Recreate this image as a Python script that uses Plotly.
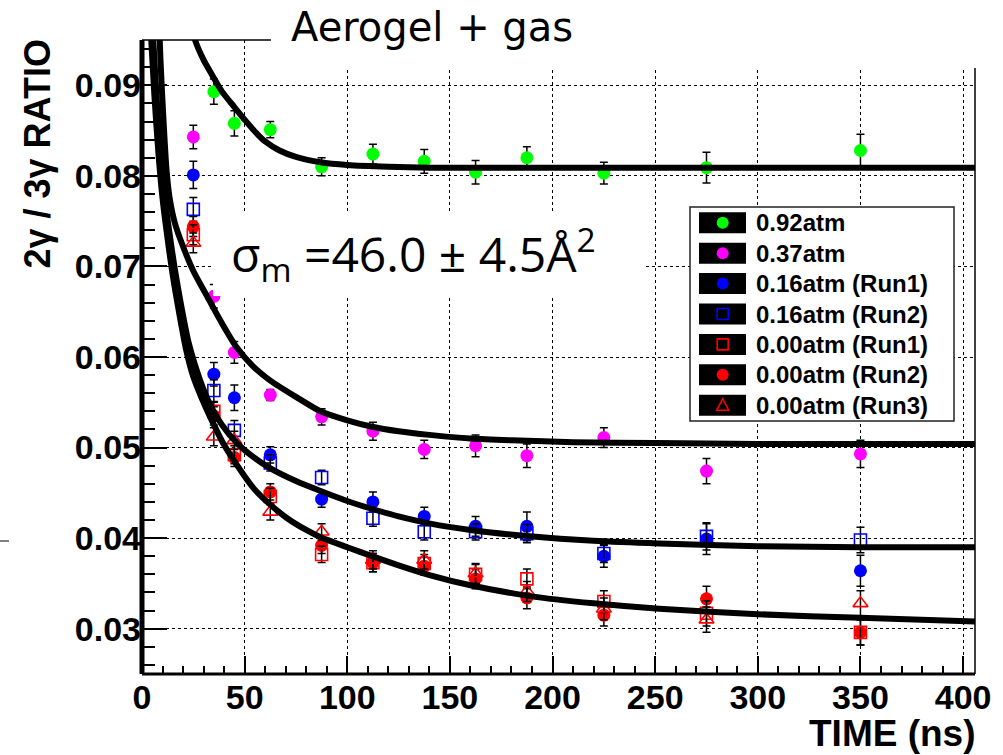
import plotly.graph_objects as go

# ---------------- data ----------------
time_ns = [25, 35, 45, 62.5, 87.5, 112.5, 137.5, 162.5, 187.5, 225, 275, 350]
time_092 = [35, 45, 62.5, 87.5, 112.5, 137.5, 162.5, 187.5, 225, 275, 350]

ratio_092 = [0.0893, 0.0858, 0.0851, 0.0810, 0.0824, 0.0816, 0.0804, 0.0820, 0.0803, 0.0809, 0.0828]
err_092 = [0.0014, 0.0014, 0.0009, 0.0010, 0.0011, 0.0013, 0.0013, 0.0012, 0.0012, 0.0017, 0.0018]

ratio_037 = [0.0843, 0.0667, 0.0605, 0.0558, 0.0534, 0.0518, 0.0498, 0.0502, 0.0491, 0.0511, 0.0474, 0.0493]
err_037 = [0.0013, 0.0013, 0.0012, 0.0006, 0.0009, 0.0010, 0.0010, 0.0012, 0.0013, 0.0011, 0.0014, 0.0015]

ratio_016_r1 = [0.0801, 0.0581, 0.0555, 0.0492, 0.0443, 0.0440, 0.0424, 0.0413, 0.0413, 0.0380, 0.0399, 0.0364]
err_016_r1 = [0.0015, 0.0013, 0.0014, 0.0009, 0.0009, 0.0011, 0.0010, 0.0011, 0.0016, 0.0012, 0.0017, 0.0017]

ratio_016_r2 = [0.0763, 0.0563, 0.0519, 0.0483, 0.0467, 0.0422, 0.0407, 0.0407, 0.0405, 0.0383, 0.0402, 0.0398]
err_016_r2 = [0.0013, 0.0012, 0.0011, 0.0009, 0.0008, 0.0009, 0.0009, 0.0009, 0.0010, 0.0010, 0.0015, 0.0014]

ratio_000_r1 = [0.0735, 0.0540, 0.0492, 0.0446, 0.0382, 0.0373, 0.0372, 0.0360, 0.0355, 0.0330, 0.0317, 0.0296]
err_000_r1 = [0.0011, 0.0010, 0.0010, 0.0009, 0.0009, 0.0010, 0.0010, 0.0011, 0.0011, 0.0012, 0.0014, 0.0014]

ratio_000_r2 = [0.0744, 0.0535, 0.0489, 0.0451, 0.0392, 0.0373, 0.0369, 0.0355, 0.0334, 0.0315, 0.0333, 0.0296]
err_000_r2 = [0.0011, 0.0010, 0.0010, 0.0009, 0.0009, 0.0010, 0.0010, 0.0011, 0.0012, 0.0012, 0.0014, 0.0014]

ratio_000_r3 = [0.0726, 0.0512, 0.0508, 0.0429, 0.0407, 0.0376, 0.0376, 0.0361, 0.0341, 0.0322, 0.0310, 0.0328]
err_000_r3 = [0.0011, 0.0010, 0.0010, 0.0009, 0.0009, 0.0010, 0.0010, 0.0011, 0.0011, 0.0012, 0.0014, 0.0014]

# fitted curves
fit_092_t = [24, 26, 30, 34, 39, 45, 50.4, 55, 60, 67, 75, 87, 100, 120, 140, 200, 300, 406]
fit_092_v = [0.0968, 0.0949, 0.0928, 0.0912, 0.0893, 0.0876, 0.0861, 0.0849, 0.0838, 0.0828, 0.0821,
             0.0815, 0.0812, 0.0810, 0.0809, 0.0809, 0.0809, 0.0809]

fit_037_t = [8, 9, 10.5, 12, 13.5, 16, 20, 25, 31, 38, 46, 54, 62.5, 75, 87, 100, 112, 125, 140,
             160, 180, 210, 250, 300, 350, 406]
fit_037_v = [0.0990, 0.0928, 0.0860, 0.0805, 0.0775, 0.0748, 0.0722, 0.0695, 0.0670, 0.0641, 0.0611,
             0.0590, 0.0574, 0.0556, 0.0540, 0.0530, 0.0523, 0.0518, 0.0514, 0.0510, 0.0508, 0.0506,
             0.0505, 0.0504, 0.0504, 0.0504]

fit_016_t = [5.5, 7, 9, 11, 13.5, 16, 19, 22.5, 26, 30, 33.3, 39, 46.3, 54, 62.6, 75, 87, 100, 111,
             125, 140.5, 160, 189, 220, 252, 300, 350, 406]
fit_016_v = [0.0950, 0.0890, 0.0825, 0.0778, 0.0735, 0.0697, 0.0658, 0.0618, 0.0590, 0.0564, 0.0547,
             0.0525, 0.0505, 0.0490, 0.0477, 0.0463, 0.0452, 0.0441, 0.0433, 0.0424, 0.0416, 0.0409,
             0.0402, 0.0397, 0.0394, 0.0391, 0.0390, 0.0390]

fit_000_t = [4.5, 6, 8, 10, 12.5, 15, 18, 21.5, 25, 29, 34, 39, 45, 54.4, 62.5, 70.7, 80, 87, 100,
             111, 125, 140.5, 160, 189, 220, 252, 300, 350, 406]
fit_000_v = [0.0950, 0.0890, 0.0825, 0.0775, 0.0730, 0.0690, 0.0650, 0.0608, 0.0578, 0.0555, 0.0530,
             0.0507, 0.0485, 0.0455, 0.0437, 0.0422, 0.0409, 0.0401, 0.0390, 0.0381, 0.0370, 0.0359,
             0.0348, 0.0336, 0.0328, 0.0322, 0.0316, 0.0312, 0.0308]

legend_labels = ["0.92atm", "0.37atm", "0.16atm (Run1)", "0.16atm (Run2)",
                 "0.00atm (Run1)", "0.00atm (Run2)", "0.00atm (Run3)"]

# ---------------- layout geometry ----------------
W, H = 1003, 755
L, R, T, B = 142, 28, 40, 81
PW, PH = W - L - R, H - T - B
X_RANGE = [0, 405.8]
Y_RANGE = [0.025, 0.095]


def xp(px):
    return (px - L) / PW


def yp(py):
    return (H - B - py) / PH


GREEN, MAGENTA, BLUE, RED = "#00ff00", "#ff00ff", "#0000ff", "#ff0000"

fig = go.Figure()


def add_series(t, v, e, symbol, color, size, name):
    is_open = symbol.endswith("open")
    fig.add_trace(go.Scatter(
        x=t, y=v, mode="markers", name=name, showlegend=False,
        marker=dict(symbol=symbol, size=size, color=color,
                    line=dict(color=color, width=1.6 if is_open else 0)),
        error_y=dict(type="data", array=e, color="black", thickness=1.5, width=4),
    ))


add_series(time_092, ratio_092, err_092, "circle", GREEN, 13, legend_labels[0])
add_series(time_ns, ratio_037, err_037, "circle", MAGENTA, 13, legend_labels[1])
add_series(time_ns, ratio_016_r1, err_016_r1, "circle", BLUE, 13, legend_labels[2])
add_series(time_ns, ratio_016_r2, err_016_r2, "square-open", BLUE, 12, legend_labels[3])
add_series(time_ns, ratio_000_r2, err_000_r2, "circle", RED, 13, legend_labels[5])
add_series(time_ns, ratio_000_r1, err_000_r1, "square-open", RED, 12, legend_labels[4])
add_series(time_ns, ratio_000_r3, err_000_r3, "triangle-up-open", RED, 13, legend_labels[6])

for ft, fv in [(fit_092_t, fit_092_v), (fit_037_t, fit_037_v),
               (fit_016_t, fit_016_v), (fit_000_t, fit_000_v)]:
    fig.add_trace(go.Scatter(x=ft, y=fv, mode="lines", showlegend=False, hoverinfo="skip",
                             line=dict(color="black", width=6, shape="spline", smoothing=0.7)))

shapes = []
# frame
shapes.append(dict(type="line", xref="paper", yref="paper", x0=1, x1=1, y0=0, y1=1,
                   line=dict(color="black", width=1.5), layer="above"))
shapes.append(dict(type="line", xref="paper", yref="paper", x0=0, x1=1, y0=1, y1=1,
                   line=dict(color="black", width=1.5), layer="above"))
shapes.append(dict(type="line", xref="paper", yref="paper", x0=0, x1=1, y0=0, y1=0,
                   line=dict(color="black", width=3), layer="above"))
shapes.append(dict(type="line", xref="paper", yref="paper", x0=0, x1=0, y0=0, y1=1,
                   line=dict(color="black", width=5), layer="above"))
# white box behind the title
shapes.append(dict(type="rect", xref="paper", yref="paper", x0=xp(271), x1=xp(1003), y0=yp(68), y1=yp(0),
                   fillcolor="white", line=dict(width=0), layer="above"))
# white box behind sigma text
shapes.append(dict(type="rect", xref="paper", yref="paper", x0=xp(213), x1=xp(645), y0=yp(296), y1=yp(211),
                   fillcolor="white", line=dict(width=0), layer="above"))
# small stray dash at left
shapes.append(dict(type="line", xref="paper", yref="paper", x0=xp(0), x1=xp(9), y0=yp(541), y1=yp(541),
                   line=dict(color="black", width=1), layer="above"))
# legend box
LEG_X0, LEG_X1, LEG_Y0, LEG_Y1 = 690, 954, 207, 421
shapes.append(dict(type="rect", xref="paper", yref="paper", x0=xp(LEG_X0), x1=xp(LEG_X1),
                   y0=yp(LEG_Y1), y1=yp(LEG_Y0), fillcolor="white",
                   line=dict(color="#222", width=1.5), layer="above"))

legend_styles = [("circle", GREEN), ("circle", MAGENTA), ("circle", BLUE), ("square", BLUE),
                 ("square", RED), ("circle", RED), ("triangle", RED)]
annotations = []
for i, (lab, (sym, col)) in enumerate(zip(legend_labels, legend_styles)):
    cy = 222.8 + i * 30.4
    cx = 722.7
    shapes.append(dict(type="rect", xref="paper", yref="paper", x0=xp(699), x1=xp(746),
                       y0=yp(cy + 10.5), y1=yp(cy - 10.5), fillcolor="black",
                       line=dict(width=0), layer="above"))
    common = dict(xref="paper", yref="paper", xsizemode="pixel", ysizemode="pixel",
                  xanchor=xp(cx), yanchor=yp(cy), layer="above")
    if sym == "circle":
        shapes.append(dict(type="circle", x0=-6, x1=6, y0=-6, y1=6, fillcolor=col,
                           line=dict(width=0), **common))
    elif sym == "square":
        shapes.append(dict(type="rect", x0=-5.5, x1=5.5, y0=-5.5, y1=5.5,
                           fillcolor="rgba(0,0,0,0)", line=dict(color=col, width=1.6), **common))
    else:
        shapes.append(dict(type="path", path="M -6,-5 L 6,-5 L 0,6.5 Z",
                           fillcolor="rgba(0,0,0,0)", line=dict(color=col, width=1.6), **common))
    annotations.append(dict(xref="paper", yref="paper", x=xp(754), y=yp(cy), xanchor="left",
                            yanchor="middle", showarrow=False, text=lab,
                            font=dict(family="Liberation Sans", size=24, color="black", weight="bold")))

annotations.append(dict(xref="paper", yref="paper", x=xp(289), y=yp(27), xanchor="left", yanchor="middle",
                        showarrow=False, text="Aerogel + gas",
                        font=dict(family="DejaVu Sans", size=40, color="black")))
annotations.append(dict(xref="paper", yref="paper", x=xp(229), y=yp(254), xanchor="left", yanchor="middle",
                        showarrow=False, text="σ<sub>m</sub> =46.0 ± 4.5Å<sup>2</sup>",
                        font=dict(family="Open Sans", size=48, color="black")))
annotations.append(dict(xref="paper", yref="paper", x=xp(976), y=yp(733), xanchor="right", yanchor="middle",
                        showarrow=False, text="TIME (ns)", borderpad=0,
                        font=dict(family="Liberation Sans", size=37, color="black", weight="bold")))
annotations.append(dict(xref="paper", yref="paper", x=xp(37), y=yp(38), xanchor="center", yanchor="top",
                        showarrow=False, text="2γ / 3γ RATIO", textangle=-90,
                        font=dict(family="Liberation Sans", size=36, color="black", weight="bold")))

tickfont = dict(family="Liberation Sans", size=34, color="black", weight="bold")
fig.update_layout(
    width=W, height=H, margin=dict(l=L, r=R, t=T, b=B, pad=0),
    paper_bgcolor="white", plot_bgcolor="white",
    xaxis=dict(range=X_RANGE, showline=False, zeroline=False, showgrid=True,
               gridcolor="black", gridwidth=1, griddash="3px,3px",
               tick0=0, dtick=50, ticks="inside", ticklen=18, tickwidth=2, tickcolor="black",
               tickfont=tickfont, ticklabelstandoff=0,
               minor=dict(dtick=10, ticks="inside", ticklen=8, tickwidth=2, tickcolor="black", showgrid=False)),
    yaxis=dict(range=Y_RANGE, showline=False, zeroline=False, showgrid=True,
               gridcolor="black", gridwidth=1, griddash="3px,3px",
               tick0=0.03, dtick=0.01, tickformat=".2f", ticks="inside", ticklen=25, tickwidth=2,
               tickcolor="black", tickfont=tickfont,
               minor=dict(dtick=0.002, ticks="inside", ticklen=13, tickwidth=2, tickcolor="black",
                          showgrid=False)),
    shapes=shapes, annotations=annotations, showlegend=False,
)

fig.write_html("out.html")
